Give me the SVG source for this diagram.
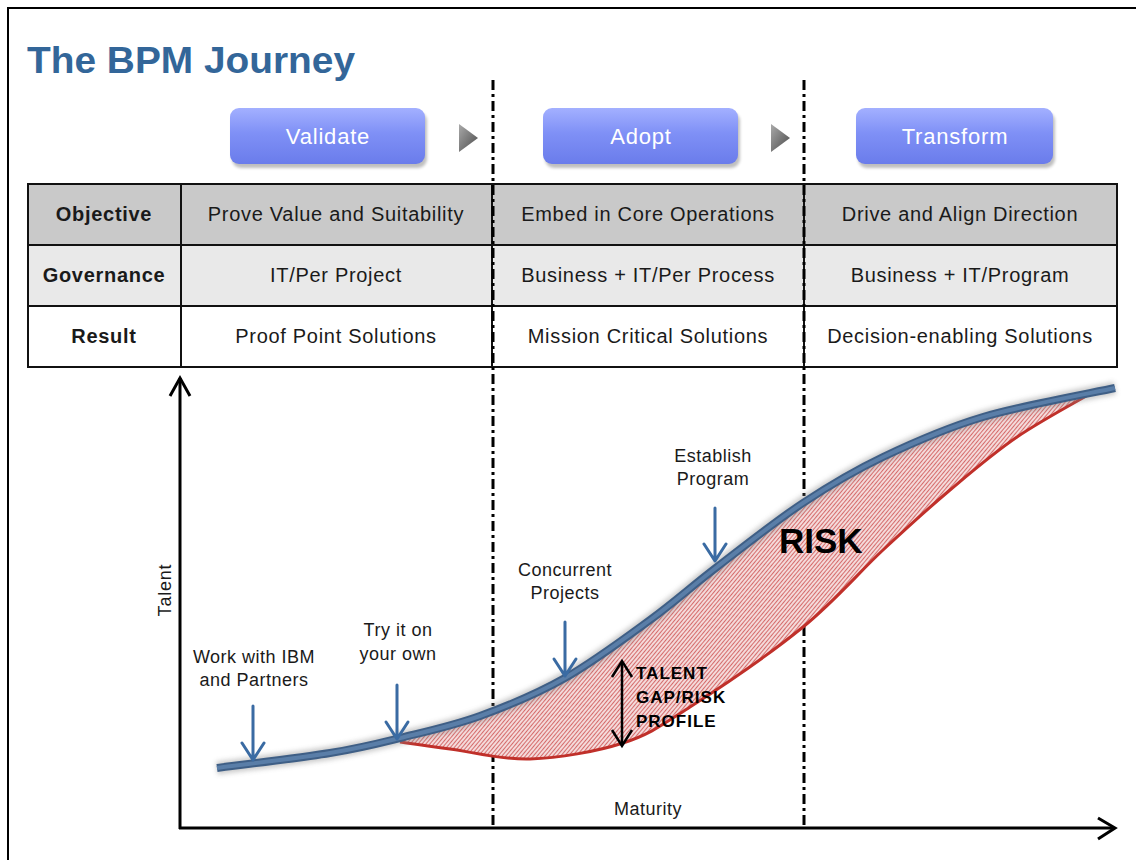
<svg xmlns="http://www.w3.org/2000/svg" width="1136" height="860" viewBox="0 0 1136 860">
<style>
.t{font-family:"Liberation Sans",Arial,sans-serif;}
.cell{font-family:"Liberation Sans",Arial,sans-serif;font-size:20px;letter-spacing:0.7px;fill:#1a1a1a;text-anchor:middle;}
.hdr{font-weight:bold;letter-spacing:0.7px;}
.btxt{font-family:"Liberation Sans",Arial,sans-serif;font-size:22px;letter-spacing:0.8px;fill:#ffffff;text-anchor:middle;}
.lbl{font-family:"Liberation Sans",Arial,sans-serif;font-size:18px;letter-spacing:0.5px;fill:#1a1a1a;text-anchor:middle;}
.grid{stroke:#111;stroke-width:2;fill:none;}
.dd{stroke:#000;stroke-width:3;stroke-dasharray:10 4 3 4;fill:none;}
.barr{stroke:#3a6ba3;stroke-width:3;fill:none;stroke-linecap:round;stroke-linejoin:round;}
.axis{stroke:#000;stroke-width:3;fill:none;}
.bold{font-family:"Liberation Sans",Arial,sans-serif;font-weight:bold;fill:#000;}
</style>
<defs>
<linearGradient id="btn" x1="0" y1="0" x2="0" y2="1">
<stop offset="0" stop-color="#a3b0ff"/>
<stop offset="0.45" stop-color="#7f90f6"/>
<stop offset="1" stop-color="#6a7ceb"/>
</linearGradient>
<linearGradient id="tri" x1="0" y1="0" x2="1" y2="1">
<stop offset="0" stop-color="#aaaaaa"/>
<stop offset="1" stop-color="#4a4a4a"/>
</linearGradient>
<pattern id="hatch" patternUnits="userSpaceOnUse" width="3" height="3" patternTransform="rotate(40)">
<rect width="3" height="3" fill="#f4dada"/>
<line x1="0" y1="0" x2="0" y2="3" stroke="#c83c3c" stroke-width="1.4"/>
</pattern>
<filter id="blur" x="-5%" y="-20%" width="110%" height="140%"><feGaussianBlur stdDeviation="2.5"/></filter>
<filter id="sh" x="-10%" y="-20%" width="120%" height="150%"><feGaussianBlur stdDeviation="1.5"/></filter>
<path id="tc" d="M217,768 C235.8,765.5 299.5,758 330,753 C360.5,748 375,744.2 400,738 C425,731.8 452.5,726 480,716 C507.5,706 536.7,694 565,678 C593.3,662 624.7,638.5 650,620 C675.3,601.5 691.5,586.5 717,567 C742.5,547.5 775.3,521.3 803,503 C830.7,484.7 853,471.3 883,457 C913,442.7 944.3,428.5 983,417 C1021.7,405.5 1093,392.8 1115,388"/>
</defs>

<rect x="0" y="0" width="1136" height="860" fill="#ffffff"/>
<path d="M8,860 L8,8 L1136,8" fill="none" stroke="#000" stroke-width="2"/>

<text class="t" x="27" y="73" font-size="37" font-weight="bold" fill="#336699" textLength="328" lengthAdjust="spacingAndGlyphs">The BPM Journey</text>

<g id="phases">
<g id="btn-validate">
<rect x="232" y="112" width="195" height="56" rx="9" fill="#000" opacity="0.25" filter="url(#sh)"/>
<rect x="230" y="108" width="195" height="56" rx="9" fill="url(#btn)"/>
<text class="btxt" x="328" y="144">Validate</text>
</g>
<g id="btn-adopt">
<rect x="545" y="112" width="195" height="56" rx="9" fill="#000" opacity="0.25" filter="url(#sh)"/>
<rect x="543" y="108" width="195" height="56" rx="9" fill="url(#btn)"/>
<text class="btxt" x="641" y="144">Adopt</text>
</g>
<g id="btn-transform">
<rect x="858" y="112" width="197" height="56" rx="9" fill="#000" opacity="0.25" filter="url(#sh)"/>
<rect x="856" y="108" width="197" height="56" rx="9" fill="url(#btn)"/>
<text class="btxt" x="955" y="144">Transform</text>
</g>
<polygon points="459,124 459,152 478,138" fill="url(#tri)"/>
<polygon points="771,124 771,152 790,138" fill="url(#tri)"/>
</g>

<g id="table">
<rect x="28" y="184" width="1089" height="61" fill="#c9c9c9"/>
<rect x="28" y="245" width="1089" height="61" fill="#e9e9e9"/>
<rect x="28" y="306" width="1089" height="61" fill="#ffffff"/>
<rect class="grid" x="28" y="184" width="1089" height="183"/>
<line class="grid" x1="28" y1="245" x2="1117" y2="245"/>
<line class="grid" x1="28" y1="306" x2="1117" y2="306"/>
<line class="grid" x1="181" y1="184" x2="181" y2="367"/>
<line class="grid" x1="492" y1="184" x2="492" y2="367"/>
<line class="grid" x1="804" y1="184" x2="804" y2="367"/>
<text class="cell hdr" x="104" y="221">Objective</text>
<text class="cell hdr" x="104" y="282">Governance</text>
<text class="cell hdr" x="104" y="343">Result</text>
<text class="cell" x="336" y="221">Prove Value and Suitability</text>
<text class="cell" x="648" y="221">Embed in Core Operations</text>
<text class="cell" x="960" y="221">Drive and Align Direction</text>
<text class="cell" x="336" y="282">IT/Per Project</text>
<text class="cell" x="648" y="282">Business + IT/Per Process</text>
<text class="cell" x="960" y="282">Business + IT/Program</text>
<text class="cell" x="336" y="343">Proof Point Solutions</text>
<text class="cell" x="648" y="343">Mission Critical Solutions</text>
<text class="cell" x="960" y="343">Decision-enabling Solutions</text>
</g>

<g id="dividers">
<line class="dd" x1="493" y1="80" x2="493" y2="828"/>
<line class="dd" x1="804" y1="80" x2="804" y2="828"/>
</g>

<g id="risk-area">
<path d="M400,738 C425,731.8 452.5,726 480,716 C507.5,706 536.7,694 565,678 C593.3,662 624.7,638.5 650,620 C675.3,601.5 691.5,586.5 717,567 C742.5,547.5 775.3,521.3 803,503 C830.7,484.7 853,471.3 883,457 C913,442.7 944.3,428.5 983,417 C1021.7,405.5 1060,395 1095,391 C1082,398.7 1041.2,420.5 1017,437 C992.8,453.5 972.3,471.2 950,490 C927.7,508.8 907.5,527.2 883,550 C858.5,572.8 835.2,600.8 803,627 C770.8,653.2 720,687.7 690,707 C660,726.3 649.7,734.3 623,743 C596.3,751.7 558.8,758 530,759 C501.2,760 471.7,751.8 450,749 C428.3,746.2 408.3,743.2 400,742 Z" fill="url(#hatch)"/>
<path d="M400,742 C408.3,743.2 428.3,746.2 450,749 C471.7,751.8 501.2,760 530,759 C558.8,758 596.3,751.7 623,743 C649.7,734.3 660,726.3 690,707 C720,687.7 770.8,653.2 803,627 C835.2,600.8 858.5,572.8 883,550 C907.5,527.2 927.7,508.8 950,490 C972.3,471.2 992.8,453.5 1017,437 C1041.2,420.5 1082,398.7 1095,391" fill="none" stroke="#c0302a" stroke-width="3"/>
</g>

<g id="talent-curve">
<use href="#tc" fill="none" stroke="#888" stroke-width="13" opacity="0.45" filter="url(#blur)"/>
<use href="#tc" fill="none" stroke="#3f5f86" stroke-width="8"/>
<use href="#tc" fill="none" stroke="#5a7ea8" stroke-width="4"/>
</g>

<g id="axes">
<line class="axis" x1="180" y1="378" x2="180" y2="829"/>
<line class="axis" x1="179" y1="828" x2="1114" y2="828"/>
<path class="axis" d="M170,396 L180,378 L190,396" stroke-width="2.5"/>
<path class="axis" d="M1098,818 L1115,828 L1098,839" stroke-width="2.5"/>
<text class="t" x="171" y="590" font-size="18" letter-spacing="0.8" fill="#1a1a1a" text-anchor="middle" transform="rotate(-90 171 590)">Talent</text>
<text class="lbl" x="648" y="815" letter-spacing="0.2">Maturity</text>
</g>

<g id="connectors">
<path class="barr" d="M253,706 L253,760 M242,743 L253,760 L264,743"/>
<path class="barr" d="M397,685 L397,739 M386,722 L397,739 L408,722"/>
<path class="barr" d="M565,622 L565,676 M554,659 L565,676 L576,659"/>
<path class="barr" d="M715,508 L715,561 M704,544 L715,561 L726,544"/>
<line x1="622" y1="663" x2="622" y2="745" stroke="#000" stroke-width="2.5"/>
<path d="M612,677 L622,661 L632,677" fill="none" stroke="#000" stroke-width="2.5"/>
<path d="M612,730 L622,746 L632,730" fill="none" stroke="#000" stroke-width="2.5"/>
</g>

<g id="labels">
<text class="lbl" x="254" y="663">Work with IBM</text>
<text class="lbl" x="254" y="686">and Partners</text>
<text class="lbl" x="398" y="636">Try it on</text>
<text class="lbl" x="398" y="660">your own</text>
<text class="lbl" x="565" y="576">Concurrent</text>
<text class="lbl" x="565" y="599">Projects</text>
<text class="lbl" x="713" y="462">Establish</text>
<text class="lbl" x="713" y="485">Program</text>
<text class="bold" x="779" y="553" font-size="35">RISK</text>
<text class="bold" x="636" y="679" font-size="17" letter-spacing="1">TALENT</text>
<text class="bold" x="636" y="703" font-size="17" letter-spacing="1">GAP/RISK</text>
<text class="bold" x="636" y="727" font-size="17" letter-spacing="1">PROFILE</text>
</g>
</svg>
